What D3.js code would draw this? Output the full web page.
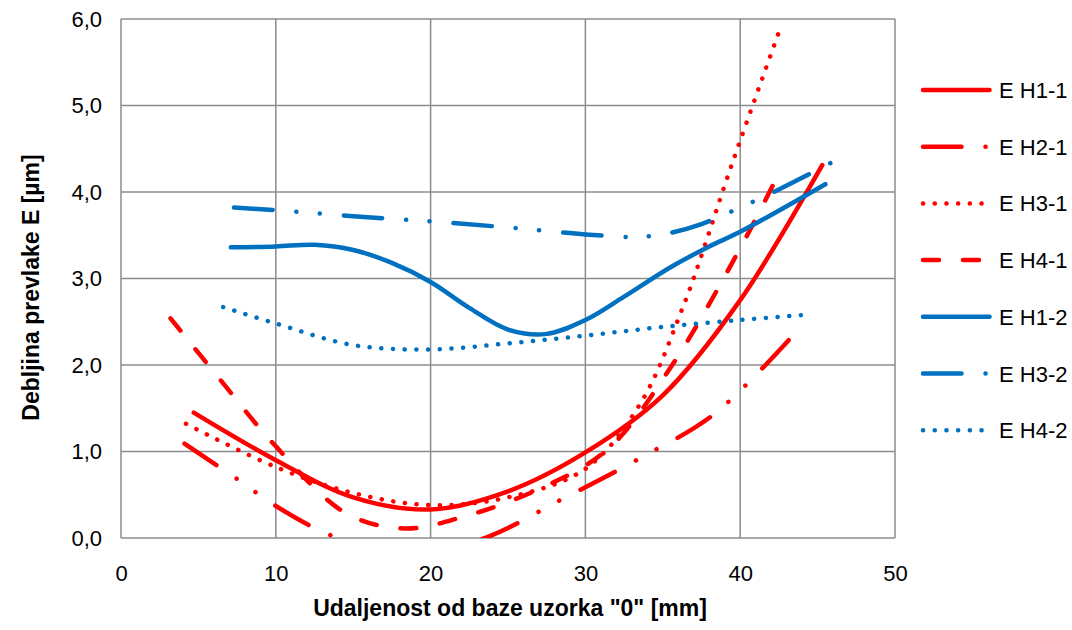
<!DOCTYPE html>
<html>
<head>
<meta charset="utf-8">
<script src="https://cdn.jsdelivr.net/npm/d3@7"></script>
<style>
  body { margin: 0; background: #fff; }
  svg text { font-family: "Liberation Sans", Arial, sans-serif; fill: #000; }
</style>
</head>
<body>
<div id="chart"></div>
<script>
// values: [distance mm, thickness um]
var eH1_1 = [[4.7,1.45],[10,0.9],[15,0.47],[20,0.33],[25,0.54],[30,0.99],[35,1.65],[40,2.75],[45.3,4.31]];
var eH2_1 = [[4.1,1.09],[7.6,0.67],[10,0.37],[13.7,0.02],[18.6,-0.21],[23.5,0.0],[28.5,0.45],[33.5,0.92],[38.3,1.43],[43.3,2.32]];
var eH3_1 = [[4.2,1.32],[10,0.82],[15,0.52],[20,0.38],[25,0.47],[30,0.8],[33.5,1.54],[36.3,2.67],[39.5,4.34],[42.6,5.9]];
var eH4_1 = [[3.2,2.54],[6.5,1.81],[10,1.06],[14.5,0.29],[18.3,0.11],[22,0.24],[26.8,0.55],[31.4,1.02],[35.5,1.97],[40,3.35],[42.4,4.18]];
var eH1_2 = [[7.1,3.36],[10,3.37],[12.5,3.39],[15,3.33],[17.5,3.18],[20,2.96],[22.5,2.66],[25,2.41],[27.5,2.36],[30,2.52],[32.5,2.79],[35.5,3.13],[38,3.37],[40,3.54],[45.5,4.09]];
var eH3_2 = [[7.3,3.82],[10,3.79],[15,3.72],[20,3.66],[25,3.59],[30,3.51],[33,3.48],[35,3.51],[37.5,3.63],[40,3.82],[42.5,4.03],[45.9,4.34]];
var eH4_2 = [[6.6,2.67],[10,2.48],[15,2.23],[20,2.18],[25,2.25],[30,2.34],[35,2.44],[40,2.52],[44.2,2.58]];

var seriesNames = ["E H1-1", "E H2-1", "E H3-1", "E H4-1", "E H1-2", "E H3-2", "E H4-2"];
var seriesData = [eH1_1, eH2_1, eH3_1, eH4_1, eH1_2, eH3_2, eH4_2];
var xTicks = [0, 10, 20, 30, 40, 50];
var yTicks = [0, 1, 2, 3, 4, 5, 6];

(function() {
var red = "#ff0000", blue = "#0070c0";
var solid = null,
    dashDot = "38.5,24,0.1,23.3,0.1,24",
    dots = "0.1,11.6",
    longDash = "16,24";
var styles = [
  {color: red, dash: solid},
  {color: red, dash: dashDot},
  {color: red, dash: dots},
  {color: red, dash: longDash},
  {color: blue, dash: solid},
  {color: blue, dash: dashDot},
  {color: blue, dash: dots}
];

var width = 1072, height = 630;
var pLeft = 121, pRight = 895, pTop = 19, pBottom = 538;

var svg = d3.select("#chart").append("svg")
  .attr("width", width)
  .attr("height", height);

var x = d3.scaleLinear().domain([0, 50]).range([pLeft, pRight]);
var y = d3.scaleLinear().domain([0, 6]).range([pBottom, pTop]);

svg.append("clipPath").attr("id", "plotclip")
  .append("rect")
  .attr("x", pLeft).attr("y", pTop)
  .attr("width", pRight - pLeft).attr("height", pBottom - pTop);

// grid
var grid = svg.append("g").attr("stroke", "#8c8c8c").attr("stroke-width", 1.5);
xTicks.forEach(function(t) {
  grid.append("line").attr("x1", x(t)).attr("x2", x(t)).attr("y1", pTop).attr("y2", pBottom);
});
yTicks.forEach(function(t) {
  grid.append("line").attr("x1", pLeft).attr("x2", pRight).attr("y1", y(t)).attr("y2", y(t));
});

// axes (labels only, Excel style)
var fmt = function(d) { return d3.format(".1f")(d).replace(".", ","); };
var yAxis = svg.append("g")
  .attr("transform", "translate(" + pLeft + ",0)")
  .call(d3.axisLeft(y).tickValues(yTicks).tickSize(0).tickPadding(19).tickFormat(fmt));
var xAxis = svg.append("g")
  .attr("transform", "translate(0," + pBottom + ")")
  .call(d3.axisBottom(x).tickValues(xTicks).tickSize(0).tickPadding(27));
[xAxis, yAxis].forEach(function(a) {
  a.select(".domain").remove();
  a.selectAll("text").style("font-size", "22px").style("font-family", "Liberation Sans, Arial, sans-serif").attr("fill", "#000");
});

svg.append("text")
  .attr("x", (pLeft + pRight) / 2 + 2)
  .attr("y", 616)
  .attr("text-anchor", "middle")
  .style("font-size", "23px")
  .style("font-weight", "bold")
  .text("Udaljenost od baze uzorka \"0\" [mm]");

svg.append("text")
  .attr("transform", "translate(39," + ((pTop + pBottom) / 2 + 9) + ") rotate(-90)")
  .attr("text-anchor", "middle")
  .style("font-size", "23px")
  .style("font-weight", "bold")
  .text("Debljina prevlake E [\u00b5m]");

// lines
var line = d3.line()
  .x(function(d) { return x(d[0]); })
  .y(function(d) { return y(d[1]); })
  .curve(d3.curveCatmullRom.alpha(0.5));

var plot = svg.append("g").attr("clip-path", "url(#plotclip)");
seriesData.forEach(function(data, i) {
  plot.append("path")
    .attr("d", line(data))
    .attr("fill", "none")
    .attr("stroke", styles[i].color)
    .attr("stroke-width", 4.5)
    .attr("stroke-linecap", "round")
    .attr("stroke-dasharray", styles[i].dash);
});

// legend
var legend = svg.append("g");
seriesNames.forEach(function(name, i) {
  var ly = 90 + i * 56.7;
  legend.append("line")
    .attr("x1", 923).attr("x2", 989.5)
    .attr("y1", ly).attr("y2", ly)
    .attr("stroke", styles[i].color)
    .attr("stroke-width", 4.5)
    .attr("stroke-linecap", "round")
    .attr("stroke-dasharray", styles[i].dash);
  legend.append("text")
    .attr("x", 999)
    .attr("y", ly + 8)
    .style("font-size", "22px")
    .text(name);
});
})();
</script>
</body>
</html>
